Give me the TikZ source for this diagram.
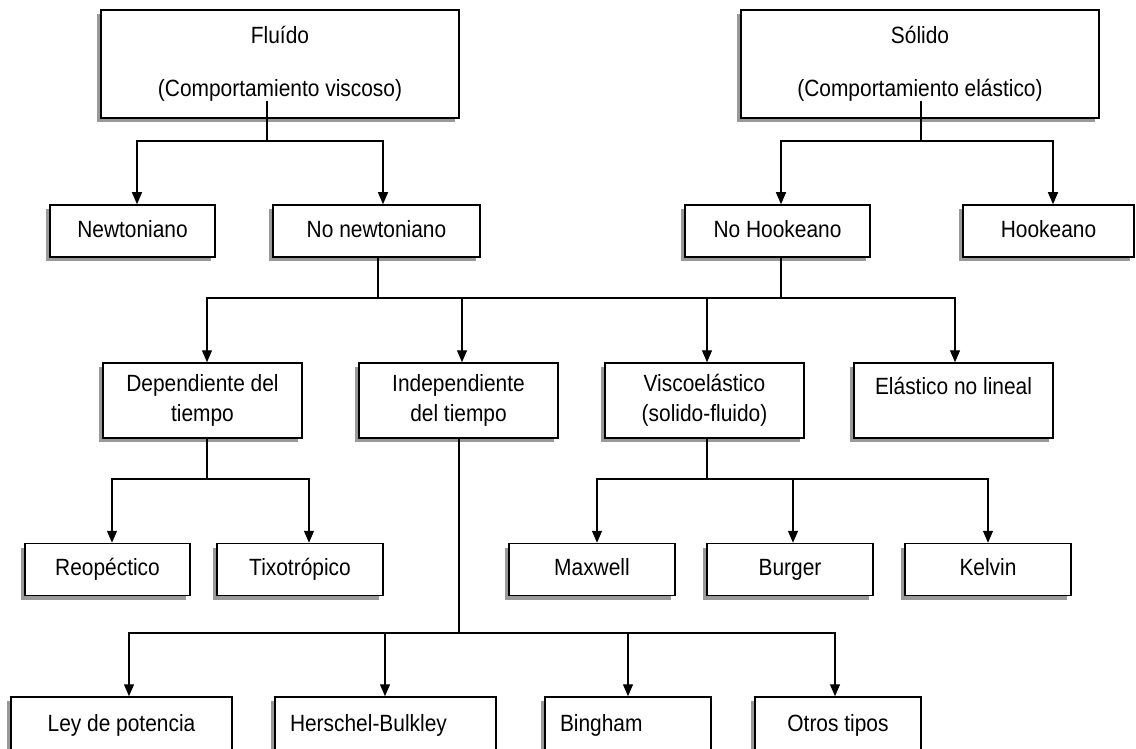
\documentclass[tikz,border=0pt]{standalone}
\usepackage{fontspec}
\setmainfont{Liberation Sans}[FakeStretch=0.89]
\usetikzlibrary{shadows,arrows.meta}
\tikzset{
  /tikz/.cd,
  caja/.style={draw,line width=1.5pt,fill=white,inner sep=0pt,align=center,
    font=\fontsize{23.5}{30}\selectfont,
    drop shadow={shadow xshift=-4pt,shadow yshift=-4pt,fill=black!40,opacity=1}},
  linea/.style={line width=1.3pt},
  flecha/.style={line width=1.3pt,-{Triangle[length=12pt,width=10pt]}}
}

\begin{document}
\begin{tikzpicture}[x=1pt,y=-1pt,
                    renglon/.style={text height=17pt,text depth=5pt},
                    fila1/.style={caja,minimum height=108pt},
                    fila2/.style={caja,renglon,minimum height=52pt},
                    fila3/.style={caja,minimum height=75pt,minimum width=199pt},
                    fila4/.style={caja,renglon,minimum height=52pt,minimum width=166pt},
                    fila5/.style={caja,renglon,minimum height=56pt}]
      \useasboundingbox (0,0) rectangle (1136,749);

      % fluido y solido
      \node[fila1,minimum width=358pt] (flu) at (280,64) {Fluído\\[23pt](Comportamiento viscoso)};
      \node[fila1,minimum width=358pt] (sol) at (920,64) {Sólido\\[23pt](Comportamiento elástico)};

      \node[fila2,minimum width=165pt] (newt) at (132.5,231) {Newtoniano};
      \node[fila2,minimum width=207pt] (nonewt) at (376.5,231) {No newtoniano};
      \node[fila2,minimum width=185pt] (nohook) at (777.5,231) {No Hookeano};
      \node[fila2,minimum width=171pt] (hook) at (1048.5,231) {Hookeano};

      \node[fila3] (dep) at (202.5,400.5) {Dependiente del\\tiempo};
      \node[fila3] (indep) at (458.5,400.5) {Independiente\\del tiempo};
      \node[fila3] (visco) at (704.5,400.5) {Viscoelástico\\(solido-fluido)};
      \node[fila3] (elas) at (953.5,400.5) {Elástico no lineal\\\phantom{x}};

      \node[fila4,minimum width=165pt] (reo) at (107.5,569.5) {Reopéctico};
      \node[fila4] (tixo) at (300,569.5) {Tixotrópico};
      \node[fila4] (maxw) at (592,569.5) {Maxwell};
      \node[fila4] (burg) at (790,569.5) {Burger};
      \node[fila4] (kelv) at (988,569.5) {Kelvin};

      \node[fila5,minimum width=221pt] (ley) at (121.5,725) {Ley de potencia};
      \node[fila5,inner xsep=15pt,text width=191pt,align=left] (hers) at (385.5,725) {Herschel-Bulkley};
      \node[fila5,inner xsep=15pt,text width=136pt,align=left] (bing) at (628,725) {Bingham};
      \node[fila5,minimum width=166pt] (otros) at (838,725) {Otros tipos};

      % uniones
      \coordinate (fluj) at (267,141);
      \coordinate (solj) at (921,141);
      \coordinate (midl) at (378,298);
      \coordinate (midr) at (781,298);
      \coordinate (depj) at (207,479);
      \coordinate (viscj) at (707,479);
      \coordinate (indj) at (459,633);

      \draw[linea] ([xshift=-13pt,yshift=18pt]flu.south) -- (fluj);
      \draw[flecha] (fluj) -| ([xshift=4.5pt]newt.north);
      \draw[flecha] (fluj) -| ([xshift=6.5pt]nonewt.north);

      \draw[linea] ([xshift=1pt,yshift=18pt]sol.south) -- (solj);
      \draw[flecha] (solj) -| ([xshift=3.5pt]nohook.north);
      \draw[flecha] (solj) -| ([xshift=4.5pt]hook.north);

      \draw[linea] ([xshift=1.5pt]nonewt.south) -- (midl);
      \draw[linea] ([xshift=3.5pt]nohook.south) -- (midr);
      \draw[linea] (midl) -- (midr);
      \draw[flecha] (midl) -| ([xshift=4.5pt]dep.north);
      \draw[flecha] (midl) -| ([xshift=3.5pt]indep.north);
      \draw[flecha] (midr) -| ([xshift=2.5pt]visco.north);
      \draw[flecha] (midr) -| ([xshift=1.5pt]elas.north);

      \draw[linea] ([xshift=4.5pt]dep.south) -- (depj);
      \draw[flecha] (depj) -| ([xshift=4.5pt]reo.north);
      \draw[flecha] (depj) -| ([xshift=9pt]tixo.north);

      \draw[linea] ([xshift=2.5pt]visco.south) -- (viscj);
      \draw[flecha] (viscj) -| ([xshift=5pt]maxw.north);
      \draw[flecha] (viscj) -| ([xshift=3pt]burg.north);
      \draw[flecha] (viscj) -| (kelv.north);

      \draw[linea] ([xshift=.5pt]indep.south) -- (indj);
      \draw[flecha] (indj) -| ([xshift=7.5pt]ley.north);
      \draw[flecha] (indj) -| ([xshift=-.5pt]hers.north);
      \draw[flecha] (indj) -| (bing.north);
      \draw[flecha] (indj) -| ([xshift=-3pt]otros.north);
    \end{tikzpicture}
\end{document}
